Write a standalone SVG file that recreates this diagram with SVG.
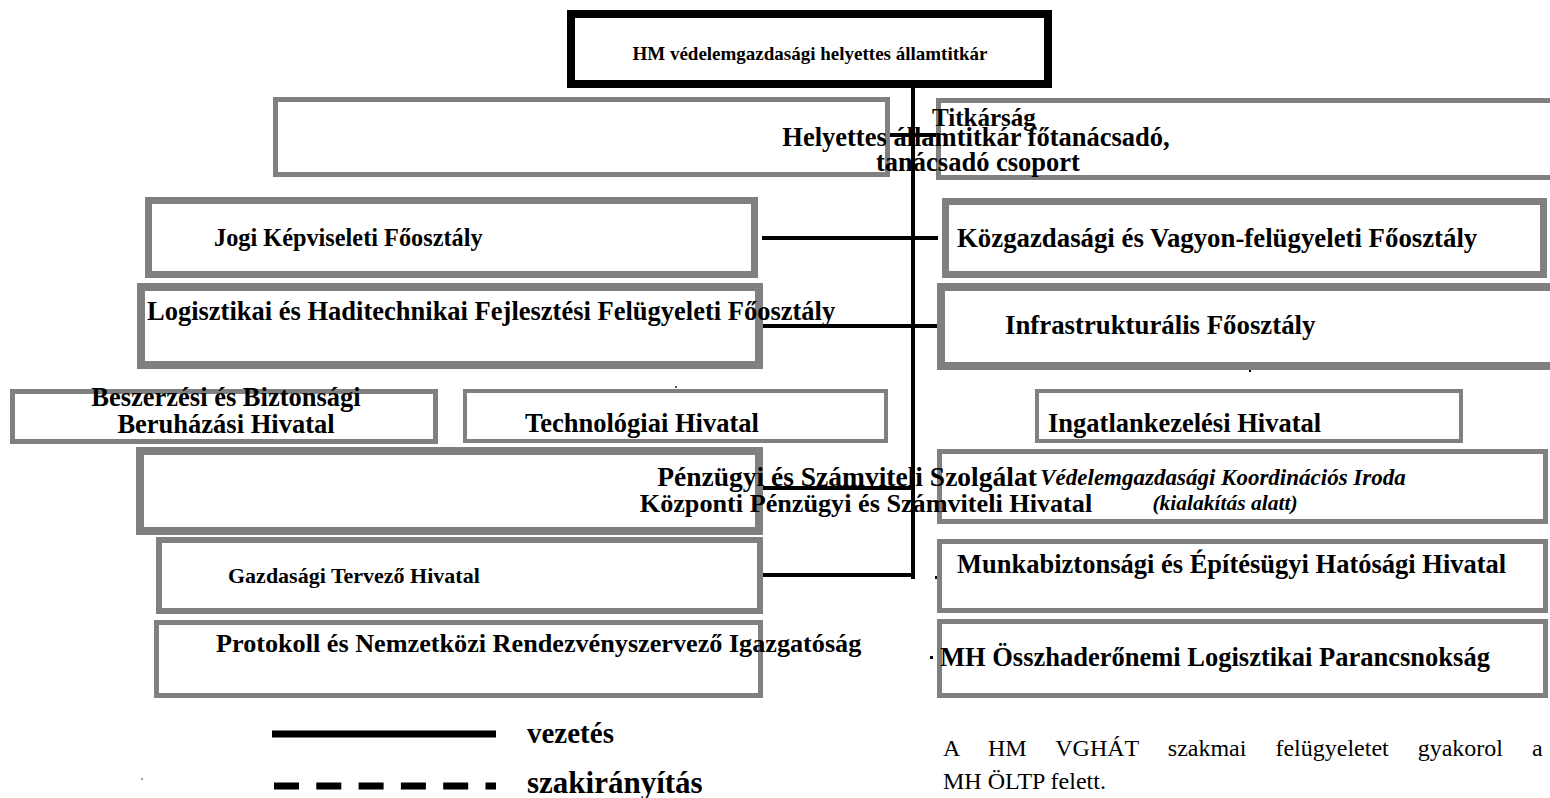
<svg xmlns="http://www.w3.org/2000/svg" width="1550" height="798" viewBox="0 0 1550 798">
<style>
.b{fill:#fff;stroke:#808080}
.t{font-family:"Liberation Serif","Times New Roman",serif;font-weight:bold;font-size:26.5px;fill:#000}
.c{stroke:#000;stroke-width:4;fill:none}
.p{font-family:"Liberation Serif","Times New Roman",serif;font-size:24px;fill:#000}
</style>
<rect x="0" y="0" width="1550" height="798" fill="#fff"/>
<g id="connectors">
<line class="c" x1="913" y1="86" x2="913" y2="579"/>
<line class="c" x1="888" y1="135" x2="938" y2="135" stroke-width="3"/>
<line class="c" x1="762" y1="238" x2="938" y2="238"/>
<line class="c" x1="762" y1="326" x2="938" y2="326"/>
<line class="c" x1="762" y1="488" x2="913" y2="488"/>
<line class="c" x1="762" y1="575" x2="913" y2="575"/>
<rect x="935" y="576" width="3" height="3" fill="#000"/>
<rect x="930" y="656" width="3" height="3" fill="#000"/>
<rect x="1249" y="368" width="2" height="4" fill="#000"/>
<rect x="675" y="386" width="2" height="2" fill="#555"/>
</g>
<g id="n-top">
<rect x="571" y="14" width="477" height="70" fill="#fff" stroke="#000" stroke-width="8"/>
<text class="t" x="810" y="60" text-anchor="middle" style="font-size:19px">HM védelemgazdasági helyettes államtitkár</text>
</g>
<g id="n-titkarsag">
<rect class="b" x="938.5" y="100.5" width="620" height="77" stroke-width="5"/>
<text class="t" x="932" y="126" style="font-size:25px">Titkárság</text>
</g>
<g id="n-helyettes">
<rect class="b" x="275.5" y="99.5" width="612" height="75" stroke-width="5"/>
<text class="t" x="976" y="146" text-anchor="middle">Helyettes államtitkár főtanácsadó,</text>
<text class="t" x="978" y="171" text-anchor="middle">tanácsadó csoport</text>
</g>
<g id="n-jogi">
<rect class="b" x="148.5" y="200.5" width="606" height="74" stroke-width="7"/>
<text class="t" x="214" y="246" style="font-size:24.3px">Jogi Képviseleti Főosztály</text>
</g>
<g id="n-kozgazd">
<rect class="b" x="945.5" y="201.5" width="598" height="73" stroke-width="7"/>
<text class="t" x="957" y="247" style="font-size:26.8px">Közgazdasági és Vagyon-felügyeleti Főosztály</text>
</g>
<g id="n-logisztikai">
<rect class="b" x="141" y="287" width="618" height="78" stroke-width="8"/>
<text class="t" x="147" y="320">Logisztikai és Haditechnikai Fejlesztési Felügyeleti Főosztály</text>
</g>
<g id="n-infra">
<rect class="b" x="941" y="287" width="620" height="79" stroke-width="8"/>
<text class="t" x="1005" y="334" style="font-size:26.8px">Infrastrukturális Főosztály</text>
</g>
<g id="n-beszerzesi">
<rect class="b" x="12.5" y="391.5" width="423" height="50" stroke-width="5"/>
<text class="t" x="226" y="406" text-anchor="middle">Beszerzési és Biztonsági</text>
<text class="t" x="226" y="433" text-anchor="middle">Beruházási Hivatal</text>
</g>
<g id="n-technologiai">
<rect class="b" x="465" y="391" width="421" height="50" stroke-width="4"/>
<text class="t" x="525" y="432">Technológiai Hivatal</text>
</g>
<g id="n-ingatlan">
<rect class="b" x="1037" y="391" width="424" height="50" stroke-width="4"/>
<text class="t" x="1048" y="432">Ingatlankezelési Hivatal</text>
</g>
<g id="n-vedelem">
<rect class="b" x="939.5" y="451.5" width="606" height="70" stroke-width="5"/>
<text class="t" x="1223" y="485" text-anchor="middle" font-style="italic" style="font-size:23px">Védelemgazdasági Koordinációs Iroda</text>
<text class="t" x="1225" y="510" text-anchor="middle" font-style="italic" style="font-size:21.5px">(kialakítás alatt)</text>
</g>
<g id="n-penzugyi">
<rect class="b" x="140" y="451" width="619" height="80" stroke-width="8"/>
<text class="t" x="847" y="486" text-anchor="middle" style="font-size:27.5px">Pénzügyi és Számviteli Szolgálat</text>
<text class="t" x="866" y="512" text-anchor="middle" style="font-size:26.2px">Központi Pénzügyi és Számviteli Hivatal</text>
</g>
<g id="n-gazdasagi">
<rect class="b" x="159" y="540" width="601" height="71" stroke-width="6"/>
<text class="t" x="228" y="583" style="font-size:22px">Gazdasági Tervező Hivatal</text>
</g>
<g id="n-munka">
<rect class="b" x="939.5" y="541.5" width="606" height="69" stroke-width="5"/>
<text class="t" x="957" y="573">Munkabiztonsági és Építésügyi Hatósági Hivatal</text>
</g>
<g id="n-protokoll">
<rect class="b" x="156.5" y="622.5" width="604" height="73" stroke-width="5"/>
<text class="t" x="216" y="652" style="font-size:26.2px">Protokoll és Nemzetközi Rendezvényszervező Igazgatóság</text>
</g>
<g id="n-mh">
<rect class="b" x="939.5" y="621.5" width="606" height="74" stroke-width="5"/>
<text class="t" x="940" y="666">MH Összhaderőnemi Logisztikai Parancsnokság</text>
</g>
<g id="legend">
<line x1="272" y1="734" x2="496" y2="734" stroke="#000" stroke-width="7"/>
<line x1="274" y1="786" x2="496" y2="786" stroke="#000" stroke-width="7" stroke-dasharray="25 17.3"/>
<rect x="141" y="778" width="2" height="2" fill="#999"/>
<text class="t" x="527" y="743" style="font-size:29px">vezetés</text>
<text class="t" x="527" y="793" style="font-size:31px">szakirányítás</text>
</g>
<g id="note">
<text class="p" x="943" y="756" word-spacing="23">A HM VGHÁT szakmai felügyeletet gyakorol a</text>
<text class="p" x="943" y="789">MH ÖLTP felett.</text>
</g>
</svg>
